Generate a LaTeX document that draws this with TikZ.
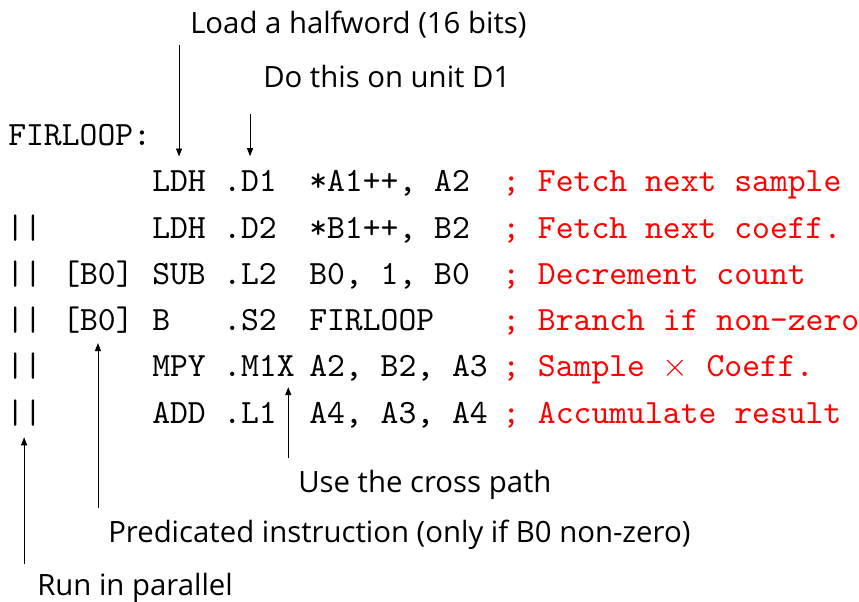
\documentclass[tikz,border=0pt]{standalone}
\usepackage{fontspec}
\setsansfont{Open Sans}
\newfontfamily\codefont{lmmono10-regular.otf}
\usepackage{tikz}
\usetikzlibrary{positioning,arrows.meta}

\tikzset{
  code/.style={font=\codefont\fontsize{25.5}{30}\selectfont, inner sep=0pt, anchor=base west},
  comment/.style={code, text=red},
  note/.style={font=\sffamily\fontsize{22}{26}\selectfont, inner sep=0pt, anchor=base west},
  pointer/.style={draw=black, line width=0.6pt, -{Triangle[length=6pt,width=4.5pt]}}
}

\begin{document}
\begin{tikzpicture}[x=0.75pt,y=0.75pt,yscale=-1,xscale=1]
\useasboundingbox (0,0) rectangle (859,601);

% Text Node
\node[code] (label) at (8,145.4) {FIRLOOP:};

% Text Node (row 1)
\node[code] (ldhA) at (152,191.7) {LDH};
\node[code] (unitA) at (223,191.7) {.D1};
\node[code] (opA) at (309,191.7) {*A1++, A2};
\node[comment] (remA) at (502,191.7) {; Fetch next sample};

% Text Node (row 2)
\node[code] (barsB) at (6,238) {||};
\node[code] (ldhB) at (152,238) {LDH};
\node[code] (unitB) at (223,238) {.D2};
\node[code] (opB) at (309,238) {*B1++, B2};
\node[comment] (remB) at (502,238) {; Fetch next coeff.};

% Text Node (row 3)
\node[code] (barsC) at (6,284.3) {||};
\node[code] (predC) at (62,284.3) {[B0]};
\node[code] (subC) at (152,284.3) {SUB};
\node[code] (unitC) at (223,284.3) {.L2};
\node[code] (opC) at (309,284.3) {B0, 1, B0};
\node[comment] (remC) at (502,284.3) {; Decrement count};

% Text Node (row 4)
\node[code] (barsD) at (6,330.6) {||};
\node[code] (predD) at (62,330.6) {[B0]};
\node[code] (brD) at (152,330.6) {B};
\node[code] (unitD) at (223,330.6) {.S2};
\node[code] (opD) at (309,330.6) {FIRLOOP};
\node[comment] (remD) at (502,330.6) {; Branch if non-zero};

% Text Node (row 5)
\node[code] (barsE) at (6,376.9) {||};
\node[code] (mpyE) at (152,376.9) {MPY};
\node[code] (unitE) at (223,376.9) {.M1X};
\node[code] (opE) at (309,376.9) {A2, B2, A3};
\node[comment] (remE) at (502,376.9) {; Sample $\times$ Coeff.};

% Text Node (row 6)
\node[code] (barsF) at (6,423.2) {||};
\node[code] (addF) at (152,423.2) {ADD};
\node[code] (unitF) at (223,423.2) {.L1};
\node[code] (opF) at (309,423.2) {A4, A3, A4};
\node[comment] (remF) at (502,423.2) {; Accumulate result};

% Notes
\node[note] (load) at (190,33) {Load a halfword (16 bits)};
\node[note] (where) at (263,87) {Do this on unit D1};
\node[note] (cross) at (298,492) {Use the cross path};
\node[note] (pred) at (108,542) {Predicated instruction (only if B0 non-zero)};
\node[note] (run) at (37,595) {Run in parallel};

% Arrows
\draw[pointer, shorten <=5.2pt, shorten >=10.6pt] (ldhA.north |- load.south) -- (ldhA.north);
\draw[pointer, shorten <=19.5pt, shorten >=10.6pt] (unitA.north |- where.south) -- (unitA.north);
\coordinate (crossx) at ([xshift=-5pt]unitE.south east);
\draw[pointer, shorten <=8.25pt, shorten >=7.5pt] (crossx |- cross.north) -- (crossx);
\draw[pointer, shorten <=8.4pt, shorten >=7pt] (predD.south |- pred.north) -- (predD.south);
\draw[pointer, shorten <=6pt, shorten >=8.25pt] (barsF.south |- run.north) -- (barsF.south);

\end{tikzpicture}
\end{document}
